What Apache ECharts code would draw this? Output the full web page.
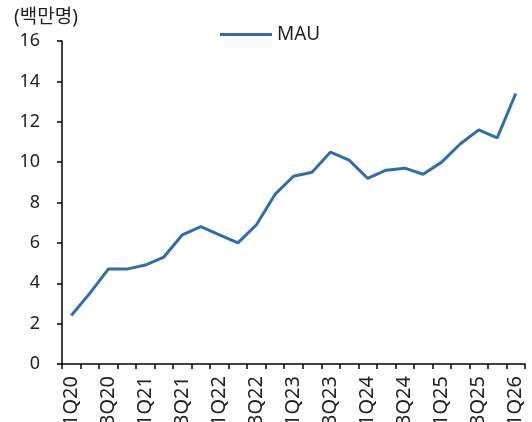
<!DOCTYPE html>
<html>
<head>
<meta charset="utf-8">
<script src="https://cdn.jsdelivr.net/npm/echarts@6/dist/echarts.min.js"></script>
<style>
  html, body { margin: 0; padding: 0; background: #fff; }
  #main { width: 532px; height: 422px; }
</style>
</head>
<body>
<div id="main"></div>
<script>
// quarters 1Q20 .. 1Q26
var quarters = ['1Q20', '2Q20', '3Q20', '4Q20', '1Q21', '2Q21', '3Q21', '4Q21',
    '1Q22', '2Q22', '3Q22', '4Q22', '1Q23', '2Q23', '3Q23', '4Q23',
    '1Q24', '2Q24', '3Q24', '4Q24', '1Q25', '2Q25', '3Q25', '4Q25', '1Q26'];
var mau = [2.4, 3.5, 4.7, 4.7, 4.9, 5.3, 6.4, 6.8,
    6.4, 6.0, 6.9, 8.4, 9.3, 9.5, 10.5, 10.1,
    9.2, 9.6, 9.7, 9.4, 10.0, 10.9, 11.6, 11.2, 13.4];
var unitLabel = '(백만명)';

var font = '"Noto Sans", "Noto Sans CJK KR", sans-serif';
var dom = document.getElementById('main');
var myChart = echarts.init(dom);

var option = {
    animation: false,
    title: {
        text: unitLabel,
        left: 9,
        top: 3,
        textStyle: { fontFamily: font, fontSize: 19, fontWeight: 'normal', color: '#222' }
    },
    legend: {
        data: ['MAU'],
        top: 20,
        left: 215,
        icon: 'rect',
        itemWidth: 52,
        itemHeight: 3,
        itemGap: 5,
        textStyle: { fontFamily: font, fontSize: 19, color: '#222' }
    },
    grid: { left: 62, right: 7, top: 41, bottom: 58, outerBoundsMode: 'none', containLabel: false },
    xAxis: {
        type: 'category',
        data: quarters,
        boundaryGap: true,
        axisLine: { lineStyle: { color: '#000', width: 1.5 } },
        axisTick: { show: true, interval: 0, length: 5, lineStyle: { color: '#000', width: 1.5 } },
        axisLabel: {
            interval: 1,
            rotate: 90,
            margin: 12,
            fontFamily: font,
            fontSize: 20,
            color: '#222'
        }
    },
    yAxis: {
        type: 'value',
        min: 0,
        max: 16,
        interval: 2,
        splitLine: { show: false },
        axisLine: { show: true, lineStyle: { color: '#000', width: 1.5 } },
        axisTick: { show: true, length: 5, lineStyle: { color: '#000', width: 1.5 } },
        axisLabel: { margin: 22, fontFamily: font, fontSize: 18, color: '#222' }
    },
    series: [
        {
            name: 'MAU',
            type: 'line',
            data: mau,
            symbol: 'none',
            color: '#2f6eaa',
            lineStyle: { width: 3, color: '#2f6eaa' }
        }
    ]
};

myChart.setOption(option, true);
</script>
</body>
</html>
